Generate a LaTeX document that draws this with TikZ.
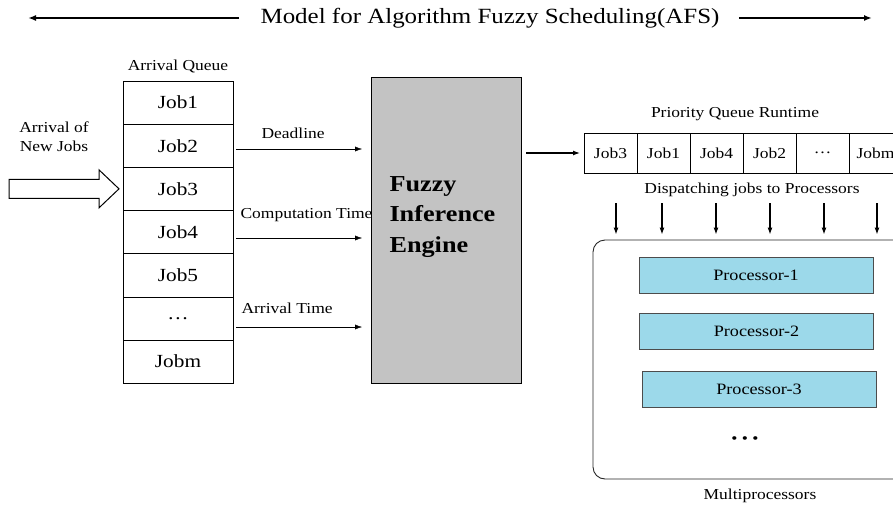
\documentclass[tikz,border=0pt]{standalone}
\usepackage{fontspec}
\setmainfont{Liberation Serif}[FakeStretch=1.15]
\usetikzlibrary{arrows.meta,positioning}
\definecolor{fiegray}{HTML}{C3C3C3}
\definecolor{procblue}{HTML}{9CD9EA}
\tikzset{
  lbl/.style={font=\fontsize{15.2}{19}\selectfont},
  jobcell/.style={draw,minimum width=110pt,minimum height=43.14pt,outer sep=0pt,inner sep=0pt,font=\fontsize{18.5}{20}\selectfont},
  pqcell/.style={draw,minimum width=53pt,minimum height=40pt,outer sep=0pt,inner sep=0pt,font=\fontsize{15.2}{17}\selectfont},
  proc/.style={draw=black!70,fill=procblue,minimum width=234pt,minimum height=36pt,font=\fontsize{15.8}{17}\selectfont},
}
\begin{document}
\begin{tikzpicture}[x=1pt,y=-1pt,>={Latex[length=7pt,width=5pt]}]
\useasboundingbox (0,0) rectangle (893,508);
\node (title) at (490,18) {\fontsize{21.7}{24}\selectfont Model for Algorithm Fuzzy Scheduling(AFS)};
\coordinate (tl) at (28,18);
\coordinate (tr) at (872,18);
\draw [->,line width=1.8pt,>={Latex[length=8pt,width=6pt]}] ([xshift=-18pt]title.west) -- (tl);
\draw [->,line width=1.8pt,>={Latex[length=8pt,width=6pt]}] ([xshift=16pt]title.east) -- (tr);

\node [lbl] (aqlabel) at (178,66) {Arrival Queue};
\foreach \i/\t in {1/Job1,2/Job2,3/Job3,4/Job4,5/Job5,6/\ldots,7/Jobm}
  \node [jobcell] (q\i) at (178,{81+43.14*(\i-0.5)}) {\t};
\node [lbl,align=center] (newjobs) at (54,137) {Arrival of\\New Jobs};
\draw [line width=1pt] ([xshift=-4pt]q3.west) -- ++(-20,-19) -- ++(0,9.5) -- ++(-90,0) -- ++(0,19) -- ++(90,0) -- ++(0,9.5) -- cycle;

\node [draw,fill=fiegray,minimum width=150pt,minimum height=306pt,outer sep=0pt] (fie) at (446,230) {};
\node [anchor=west,align=left,font=\bfseries\fontsize{22.8}{30.5}\selectfont] (fietext) at (386,217) {Fuzzy\\Inference\\Engine};
\foreach \n/\y/\lx/\ly/\t in {dl/149/258/133/Deadline,ct/238/237/215/Computation Time,at/327/238/308/Arrival Time}{
  \coordinate (\n) at (236,\y);
  \node [lbl,anchor=west] (\n text) at (\lx,\ly) {\t};
  \draw [->,shorten >=9pt] (\n) -- (fie.west |- \n);
}

\foreach \i/\t in {1/Job3,2/Job1,3/Job4,4/Job2,5/\ldots,6/Jobm}
  \node [pqcell] (pq\i) at ({584+53*(\i-0.5)},153) {\t};
\node [lbl] (pqlabel) at (735,114) {Priority Queue Runtime};
\draw [->,line width=1.3pt,shorten <=5pt,shorten >=4pt] (fie.east |- pq1) -- (pq1.west);

\node [lbl] (dispatch) at (752,190) {Dispatching jobs to Processors};
\node [draw=black!85,line width=0.9pt,rounded corners=12pt,minimum width=315pt,minimum height=239pt] (mp) at (750.5,359.5) {};
\foreach \x [count=\i] in {616,662,716,770,824,877}{
  \coordinate (d\i) at (\x,203);
  \draw [->,line width=1.2pt,shorten >=5pt] (d\i) -- (d\i |- mp.north);
}
\foreach \i/\x/\y in {1/756/275,2/756.5/331,3/759/389}
  \node [proc] (p\i) at (\x,\y) {Processor-\i};
\node [lbl] (pdots) at (745,440) {\textbullet\ \textbullet\ \textbullet};
\node [lbl] (mplabel) at (760,496) {Multiprocessors};
\end{tikzpicture}
\end{document}
